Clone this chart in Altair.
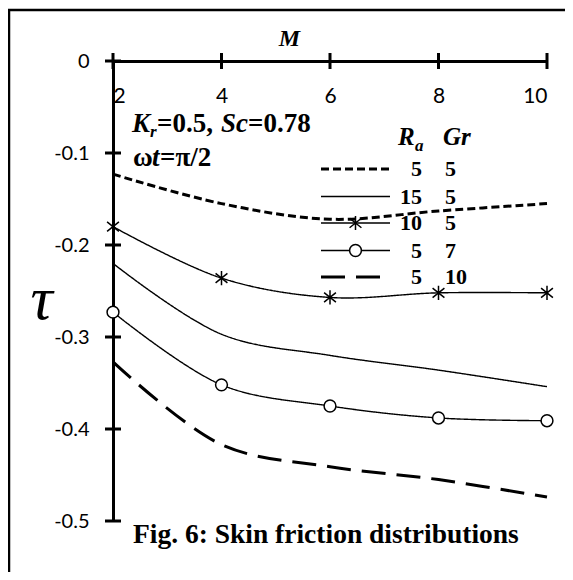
import altair as alt
import pandas as pd

# ---- data ----
M = [2, 4, 6, 8, 10]
tau_Ra5_Gr5 = [-0.123, -0.155, -0.172, -0.163, -0.155]
tau_Ra15_Gr5 = [-0.220, -0.297, -0.320, -0.336, -0.354]
tau_Ra10_Gr5 = [-0.180, -0.236, -0.257, -0.252, -0.252]
tau_Ra5_Gr7 = [-0.273, -0.352, -0.375, -0.388, -0.391]
tau_Ra5_Gr10 = [-0.327, -0.417, -0.441, -0.455, -0.474]

Ra = [5, 15, 10, 5, 5]
Gr = [5, 5, 5, 7, 10]
x_ticks = [2, 4, 6, 8, 10]
y_ticks = [0, -0.1, -0.2, -0.3, -0.4, -0.5]

series_names = [f"Ra={r}, Gr={g}" for r, g in zip(Ra, Gr)]
series_vals = [tau_Ra5_Gr5, tau_Ra15_Gr5, tau_Ra10_Gr5, tau_Ra5_Gr7, tau_Ra5_Gr10]

rows = []
for name, vals in zip(series_names, series_vals):
    for m, t in zip(M, vals):
        rows.append({"M": m, "tau": t, "series": name})
df = pd.DataFrame(rows)

# styles
dashes = [[8, 4], [1, 0], [1, 0], [1, 0], [24, 11]]
widths = [3, 1.4, 1.4, 1.4, 3]
BLANK = "M0,0L0,0"
STAR = "M-1,-0.8L1,0.8M-1,0.8L1,-0.8M0,-1.2L0,1.2"
shapes = [BLANK, BLANK, STAR, "circle", BLANK]
has_marker = [False, False, True, True, False]
marker_size = 140

SERIF = "Liberation Serif"
SANS = "Lato"

x_enc = alt.X(
    "M:Q",
    scale=alt.Scale(domain=[2, 10], nice=False, zero=False),
    axis=alt.Axis(
        orient="top", values=x_ticks, ticks=False, tickSize=0, grid=False,
        domainColor="black", domainWidth=3,
        labelFont=SANS, labelFontSize=21, labelColor="black",
        labelBaseline="alphabetic", labelPadding=-41,
        title="M", titleFont=SERIF, titleFontSize=24, titleFontWeight="bold",
        titleFontStyle="italic", titleX=176, titleY=-16, titleBaseline="alphabetic",
        titleAlign="center", titleColor="black",
    ),
)
y_enc = alt.Y(
    "tau:Q",
    scale=alt.Scale(domain=[-0.5, 0], nice=False, zero=False),
    axis=alt.Axis(
        orient="left", values=y_ticks, ticks=False, tickSize=0, grid=False,
        domainColor="black", domainWidth=3,
        labelFont=SANS, labelFontSize=20, labelColor="black", labelPadding=24,
        labelExpr="datum.value == 0 ? '0' : '-' + format(abs(datum.value), '.1f')",
        title="τ", titleFont=SERIF, titleFontSize=62, titleFontStyle="italic",
        titleFontWeight="normal", titleAngle=0, titleX=-72, titleY=257,
        titleBaseline="alphabetic", titleAlign="center", titleColor="black",
    ),
)

dash_scale = alt.Scale(domain=series_names, range=dashes)
shape_scale = alt.Scale(domain=series_names, range=shapes)

thick_names = [n for n, w in zip(series_names, widths) if w > 2]
thin_names = [n for n, w in zip(series_names, widths) if w <= 2]

lines_thick = alt.Chart(df).transform_filter(
    alt.FieldOneOfPredicate(field="series", oneOf=thick_names)
).mark_line(interpolate="catmull-rom", color="black", strokeWidth=max(widths)).encode(
    x=x_enc, y=y_enc,
    strokeDash=alt.StrokeDash("series:N", scale=dash_scale, legend=None),
    detail="series:N",
)
lines_thin = alt.Chart(df).transform_filter(
    alt.FieldOneOfPredicate(field="series", oneOf=thin_names)
).mark_line(interpolate="catmull-rom", color="black", strokeWidth=min(widths)).encode(
    x="M:Q", y="tau:Q",
    strokeDash=alt.StrokeDash("series:N", scale=dash_scale, legend=None),
    detail="series:N",
)

marker_names = [n for n, h in zip(series_names, has_marker) if h]
points = alt.Chart(df).transform_filter(
    alt.FieldOneOfPredicate(field="series", oneOf=marker_names)
).mark_point(filled=True, fill="white", stroke="black", strokeWidth=1.5, size=marker_size, opacity=1).encode(
    x="M:Q", y="tau:Q",
    shape=alt.Shape("series:N", scale=shape_scale, legend=None),
)

xt = alt.Chart(pd.DataFrame({"M": x_ticks, "tau": [0] * len(x_ticks)})).mark_tick(
    orient="vertical", size=16, thickness=3, color="black", opacity=1
).encode(x="M:Q", y="tau:Q")
yt = alt.Chart(pd.DataFrame({"M": [2] * len(y_ticks), "tau": y_ticks})).mark_tick(
    orient="horizontal", size=16, thickness=3, color="black", opacity=1
).encode(x="M:Q", y="tau:Q")

one = pd.DataFrame({"a": [0]})
frame = alt.Chart(one).mark_rect(
    fillOpacity=0, stroke="black", strokeWidth=2.5
).encode(x=alt.value(-104), x2=alt.value(520), y=alt.value(-51), y2=alt.value(560))


def txt(s, x, y, size, style="normal", weight="bold", font=SERIF, align="left", baseline="alphabetic"):
    return alt.Chart(one).mark_text(
        text=s, font=font, fontSize=size, fontStyle=style, fontWeight=weight,
        align=align, baseline=baseline, color="black",
    ).encode(x=alt.value(x), y=alt.value(y))


ann = [
    txt("K", 19, 71, 27, "italic"),
    txt("r", 37, 76, 17, "italic"),
    txt("=0.5,", 44, 71, 27),
    txt("Sc", 108, 71, 27, "italic"),
    txt("=0.78", 135, 71, 27),
    txt("ω", 20, 105, 27),
    txt("t", 39, 105, 27, "italic"),
    txt("=π/2", 47, 105, 27),
    txt("Fig. 6: Skin friction distributions", 20, 482, 27.5),
]

# ---- hand-built legend (positions relative to the plot area) ----
LEG_X0, LEG_X1 = 208, 277
LEG_ROWS = [108, 135.5, 162, 189.5, 216]
RA_RIGHT, GR_LEFT = 309, 332
leg = [
    txt("R", 285, 84, 25, "italic"),
    txt("a", 302, 90, 17, "italic"),
    txt("Gr", 330, 84, 25, "italic"),
]
for i in range(len(series_names)):
    yy = LEG_ROWS[i]
    leg.append(
        alt.Chart(one).mark_rule(color="black", strokeWidth=widths[i], strokeDash=dashes[i]).encode(
            x=alt.value(LEG_X0), x2=alt.value(LEG_X1), y=alt.value(yy)
        )
    )
    if has_marker[i]:
        leg.append(
            alt.Chart(one).mark_point(
                shape=shapes[i], filled=True, fill="white", stroke="black",
                strokeWidth=1.5, size=marker_size, opacity=1,
            ).encode(x=alt.value((LEG_X0 + LEG_X1) / 2), y=alt.value(yy))
        )
    leg.append(txt(str(Ra[i]), RA_RIGHT, yy, 22, align="right", baseline="middle"))
    leg.append(txt(str(Gr[i]), GR_LEFT, yy, 22, align="left", baseline="middle"))

chart = alt.layer(frame, lines_thick, lines_thin, points, xt, yt, *ann, *leg).properties(
    width=434, height=460,
    autosize=alt.AutoSizeParams(type="none"),
    padding={"left": 105, "top": 53, "right": 18, "bottom": 51},
    background="white",
).configure_view(stroke=None)

chart.save("out.html", embed_options={"renderer": "svg", "actions": False})
